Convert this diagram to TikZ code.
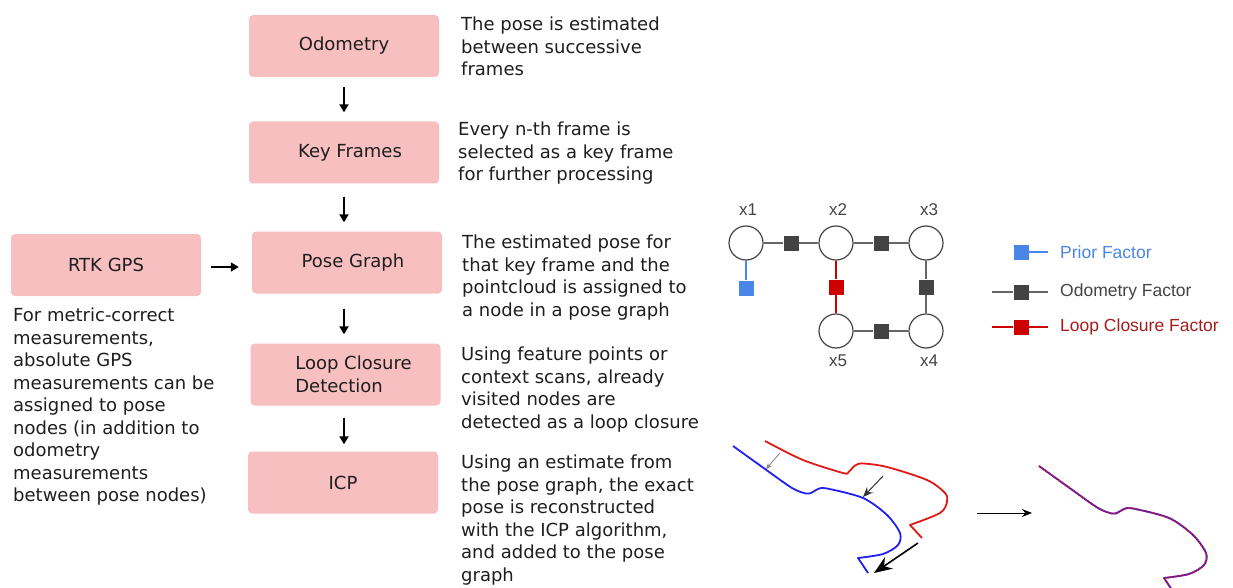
\documentclass[tikz,border=0pt]{standalone}
\usepackage{fontspec}
\setmainfont{DejaVu Sans}
\newfontfamily\graphfont{Liberation Sans}
\usetikzlibrary{arrows.meta}
\definecolor{stagepink}{HTML}{F8BFC0}
\definecolor{textgray}{HTML}{1E1E1E}
\definecolor{nodegray}{HTML}{444444}
\definecolor{edgegray}{HTML}{666666}
\definecolor{odogray}{HTML}{434343}
\definecolor{loopred}{HTML}{CC0000}
\definecolor{looptext}{HTML}{A61C1C}
\definecolor{priorblue}{HTML}{4A86E8}
\definecolor{scanblue}{HTML}{2020F0}
\definecolor{scanred}{HTML}{E01818}
\begin{document}
\begin{tikzpicture}[x=1pt,y=-1pt]
	\tikzset{stage/.style = {fill=stagepink,rounded corners=4pt,minimum width=190pt,minimum height=62pt,align=left,text=textgray,font=\fontsize{18}{22.5}\selectfont}}
	\tikzset{desc/.style = {anchor=north west,inner sep=0pt,align=left,text=textgray,font=\fontsize{18}{22.5}\selectfont}}
	\tikzset{flow/.style = {-{Triangle[length=8pt,width=9pt]},line width=1.8pt,shorten <=10pt,shorten >=9pt}}
	\tikzset{pose/.style = {shape=circle,draw=nodegray,fill=white,line width=1.2pt,minimum size=34pt,inner sep=0pt}}
	\tikzset{factor/.style = {shape=rectangle,minimum size=15pt,inner sep=0pt,fill=odogray}}
	\tikzset{odoedge/.style = {draw=edgegray,line width=1.6pt}}
	\tikzset{lbl/.style = {inner sep=0pt,text=nodegray,font=\graphfont\fontsize{17}{20}\selectfont}}
	\tikzset{legtext/.style = {anchor=west,inner sep=0pt,font=\graphfont\fontsize{17.5}{20}\selectfont}}
	\tikzset{scan/.style = {line width=1.8pt,line join=round}}
	\useasboundingbox (0,0) rectangle (1233,588);
	% pipeline
	\node[stage] (odo) at (344,46) {Odometry};
	\node[stage] (key) at (344,152.5) {\hspace*{12pt}Key Frames};
	\node[stage] (pg) at (347,262.5) {\hspace*{12pt}Pose Graph};
	\node[stage] (lcd) at (345.5,374.5) {\hspace*{16pt}Loop Closure\\\hspace*{16pt}Detection};
	\node[stage] (icp) at (343,482.5) {ICP};
	\node[stage] (rtk) at (106,265) {RTK GPS};
	\draw[flow] (odo.south) -- (odo.south |- key.north);
	\draw[flow, shorten <=13pt] (key.south) -- (key.south |- pg.north);
	\draw[flow, shorten <=15pt] (pg.south -| odo) -- (lcd.north -| odo);
	\draw[flow, shorten <=12pt, shorten >=7pt] (lcd.south -| odo) -- (icp.north -| odo);
	\draw[flow, shorten <=10pt, shorten >=13pt] ([yshift=-2pt]rtk.east) -- ([yshift=-2pt]rtk.east -| pg.west);
	% descriptions
	\node[desc] (dodo) at (461,17) {The pose is estimated\\between successive\\frames};
	\node[desc] (dkey) at (458,122) {Every n-th frame is\\selected as a key frame\\for further processing};
	\node[desc] (dpg) at (462,235) {The estimated pose for\\that key frame and the\\pointcloud is assigned to\\a node in a pose graph};
	\node[desc] (dlcd) at (461,347) {Using feature points or\\context scans, already\\visited nodes are\\detected as a loop closure};
	\node[desc] (dicp) at (461,455) {Using an estimate from\\the pose graph, the exact\\pose is reconstructed\\with the ICP algorithm,\\and added to the pose\\graph};
	\node[desc] (drtk) at (13,308) {For metric-correct\\measurements,\\absolute GPS\\measurements can be\\assigned to pose\\nodes (in addition to\\odometry\\measurements\\between pose nodes)};
	% factor graph
	\node[pose] (x1) at (746,243) {};
	\node[pose] (x2) at (836,243) {};
	\node[pose] (x3) at (926,243) {};
	\node[pose] (x4) at (926,331) {};
	\node[pose] (x5) at (836,331) {};
	\node[factor] (f12) at (791,243) {};
	\node[factor] (f23) at (881,243) {};
	\node[factor] (f34) at (926,287) {};
	\node[factor] (f45) at (881,331) {};
	\node[factor, fill=loopred] (f25) at (836,287) {};
	\node[factor, fill=priorblue] (fp1) at (746,288) {};
	\draw[odoedge] (x1) -- (f12) -- (x2) -- (f23) -- (x3) -- (f34) -- (x4) -- (f45) -- (x5);
	\draw[odoedge, draw=loopred] (x2) -- (f25) -- (x5);
	\draw[odoedge, draw=priorblue] (x1) -- (fp1);
	\node[lbl] (lx1) at (748,210) {x1};
	\node[lbl] (lx2) at (838,210) {x2};
	\node[lbl] (lx3) at (929,210) {x3};
	\node[lbl] (lx5) at (838,361) {x5};
	\node[lbl] (lx4) at (929,361) {x4};
	% legend
	\node[factor, fill=priorblue] (lgp) at (1021,252) {};
	\coordinate (lgpe) at (1048,252);
	\draw[odoedge, draw=priorblue] (lgp) -- (lgpe);
	\node[legtext, text=priorblue] (lgpt) at (1060,252) {Prior Factor};
	\coordinate (lgos) at (992,292);
	\node[factor] (lgo) at (1021,292) {};
	\coordinate (lgoe) at (1048,292);
	\draw[odoedge] (lgos) -- (lgo) -- (lgoe);
	\node[legtext, text=nodegray] (lgot) at (1060,292) {Odometry Factor};
	\coordinate (lgls) at (992,327);
	\node[factor, fill=loopred] (lgl) at (1021,327) {};
	\coordinate (lgle) at (1048,327);
	\draw[odoedge, draw=loopred] (lgls) -- (lgl) -- (lgle);
	\node[legtext, text=looptext] (lglt) at (1060,327) {Loop Closure Factor};
	% scans before and after ICP
	\draw[scan, scanblue] plot[smooth] coordinates {(733,446) (765,469) (792,488) (806,493.5) (812,492.5) (818,489) (827,488.5) (863,498) (887,515) (900,533) (898,545) (883,554) (858,558)} -- (868,573);
	\draw[scan, scanred] plot[smooth] coordinates {(765,441) (803,460) (843,473) (848.5,472) (855,465.5) (863,463.5) (887,467) (927,480) (945,493) (947,502) (940,513) (910,525)} -- (922,538);
	\draw[gray, line width=0.8pt, -{Stealth[length=6pt,width=5pt]}] (780,453) -- (766,469);
	\draw[black!80, line width=1pt, -{Stealth[length=10pt,width=8pt]}] (883,476) -- (863,497);
	\draw[black, line width=1.6pt, -{Stealth[length=18pt,width=14pt]}] (918,543) -- (874,573);
	\coordinate (icpa) at (977,513);
	\coordinate (icpb) at (1032,513);
	\draw[black, line width=1pt, -{Stealth[length=10pt,width=8pt]}] (icpa) -- (icpb);
	\begin{scope}[shift={(306,20)}]
		\clip (700,420) rectangle (950,568);
		\draw[scan, scanblue] plot[smooth] coordinates {(733,446) (765,469) (792,488) (806,493.5) (812,492.5) (818,489) (827,488.5) (863,498) (887,515) (900,533) (898,545) (883,554) (858,558)} -- (868,573);
		\draw[scan, scanred, dash pattern=on 1.5pt off 1.5pt] plot[smooth] coordinates {(733,446) (765,469) (792,488) (806,493.5) (812,492.5) (818,489) (827,488.5) (863,498) (887,515) (900,533) (898,545) (883,554) (858,558)} -- (868,573);
	\end{scope}
\end{tikzpicture}
\end{document}
